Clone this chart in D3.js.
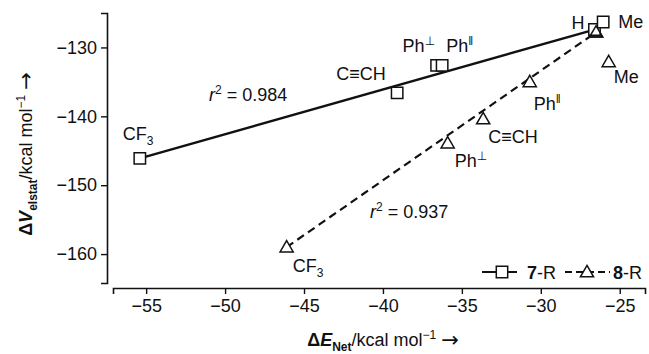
<!DOCTYPE html>
<html>
<head>
<meta charset="utf-8">
<script src="https://cdn.jsdelivr.net/npm/d3@7"></script>
<style>
  body { margin: 0; background: #fff; }
  svg { font-family: "Liberation Sans", Arial, sans-serif; }
</style>
</head>
<body>
<div id="chart"></div>
<script>
// 7-R (squares) and 8-R (triangles): dE_Net vs dV_elstat, kcal/mol
const subs7 = ['CF3', 'C≡CH', 'Ph⊥', 'Phǁ', 'H', 'Me'];
const eNet7 = [-55.4, -39.1, -36.6, -36.25, -26.6, -26.05];
const vElst7 = [-146.1, -136.6, -132.6, -132.6, -127.4, -126.3];

const subs8 = ['CF3', 'Ph⊥', 'C≡CH', 'Phǁ', 'H', 'Me'];
const eNet8 = [-46.1, -35.9, -33.65, -30.7, -26.5, -25.7];
const vElst8 = [-159.0, -143.9, -140.4, -135.0, -127.8, -132.1];

// regression lines (end points)
const fit7 = [[-55.4, -146.1], [-26.6, -127.4]];
const fit8 = [[-46.1, -159.0], [-26.5, -127.8]];
const r2Labels = ['0.984', '0.937'];

const xTicks = [-55, -50, -45, -40, -35, -30, -25];
const yTicks = [-130, -140, -150, -160];

const width = 649, height = 354;
const ink = '#111';
const fs = 18, fsSmall = 12;

const svg = d3.select('#chart').append('svg')
  .attr('width', width)
  .attr('height', height);

const x = d3.scaleLinear().domain([-57.1, -23.4]).range([113, 645]);
const y = d3.scaleLinear().domain([-164.2, -125]).range([283, 13]);

const fmt = d => d < 0 ? '\u2212' + Math.abs(d) : '' + d;

// axes
const xAxis = svg.append('g')
  .attr('transform', 'translate(0,288)')
  .call(d3.axisBottom(x).tickValues(xTicks).tickFormat(fmt).tickSizeOuter(0).tickSize(6).tickPadding(5));
const yAxis = svg.append('g')
  .attr('transform', 'translate(107,0)')
  .call(d3.axisLeft(y).tickValues(yTicks).tickFormat(fmt).tickSizeOuter(0).tickSize(6).tickPadding(4));

[xAxis, yAxis].forEach(a => {
  a.select('.domain').attr('stroke', ink).attr('stroke-width', 1.6);
  a.selectAll('.tick line').attr('stroke', ink).attr('stroke-width', 1.4);
  a.selectAll('.tick text').attr('fill', ink).attr('font-size', fs).attr('font-family', null);
});

// axis titles
function axisTitle(t, sym, sub) {
  t.append('tspan').attr('font-weight', 'bold').text('Δ');
  t.append('tspan').attr('font-weight', 'bold').attr('font-style', 'italic').text(sym);
  t.append('tspan').attr('font-weight', 'bold').attr('font-size', fsSmall).attr('dy', 5).text(sub);
  t.append('tspan').attr('dy', -5).text('/kcal mol');
  t.append('tspan').attr('font-size', fsSmall).attr('dy', -7).text('\u22121');
  t.append('tspan').attr('dy', 7).text('\u00a0');
  t.append('tspan').attr('font-family', 'DejaVu Sans').attr('font-size', 21).attr('dy', 1).text('→');
}
axisTitle(svg.append('text').attr('x', 383).attr('y', 346)
  .attr('text-anchor', 'middle').attr('font-size', fs).attr('fill', ink), 'E', 'Net');
axisTitle(svg.append('text')
  .attr('transform', 'translate(32,154) rotate(-90)')
  .attr('text-anchor', 'middle').attr('font-size', fs).attr('fill', ink), 'V', 'elstat');

// fit lines
const line = d3.line().x(d => x(d[0])).y(d => y(d[1]));
svg.append('path').attr('d', line(fit7)).attr('fill', 'none')
  .attr('stroke', ink).attr('stroke-width', 2.4);
svg.append('path').attr('d', line(fit8)).attr('fill', 'none')
  .attr('stroke', ink).attr('stroke-width', 2.2).attr('stroke-dasharray', '8,5');

// markers
const sq = d3.symbol().type(d3.symbolSquare).size(130);
const tri = d3.symbol().type(d3.symbolTriangle).size(75);

const pts8 = eNet8.map((v, i) => [v, vElst8[i]]);
const pts7 = eNet7.map((v, i) => [v, vElst7[i]]);

svg.selectAll('.tri').data(pts8).join('path')
  .attr('transform', d => `translate(${x(d[0])},${y(d[1]) + 1})`)
  .attr('d', tri).attr('fill', '#fff').attr('stroke', ink).attr('stroke-width', 1.5);
svg.selectAll('.sq').data(pts7).join('path')
  .attr('transform', d => `translate(${x(d[0])},${y(d[1])})`)
  .attr('d', sq).attr('fill', '#fff').attr('stroke', ink).attr('stroke-width', 1.5);
// H triangle sits on top of the H square
svg.append('path')
  .attr('transform', `translate(${x(eNet8[4])},${y(vElst8[4]) + 1})`)
  .attr('d', tri).attr('fill', 'none').attr('stroke', ink).attr('stroke-width', 1.5);

// substituent labels: offsets from their point
function label(px, py, txt) {
  const t = svg.append('text').attr('x', px).attr('y', py)
    .attr('font-size', fs).attr('fill', ink);
  const m = txt.match(/^(Ph)([⊥ǁ])$/);
  if (txt === 'CF3') {
    t.append('tspan').text('CF');
    t.append('tspan').attr('font-size', fsSmall).attr('dy', 5).text('3');
  } else if (m) {
    t.append('tspan').text(m[1]);
    t.append('tspan').attr('font-size', fsSmall).attr('dy', -7)
      .attr('font-family', m[2] === '⊥' ? 'DejaVu Sans' : null).text(m[2]);
  } else {
    t.text(txt);
  }
}
const off7 = [[-17, -18], [-61, -13], [-34, -13], [4, -13], [-23, -1], [15, 6]];
const off8 = [[6, 25], [7, 24], [5, 24], [4, 28], null, [5, 21]];
pts7.forEach((d, i) => label(x(d[0]) + off7[i][0], y(d[1]) + off7[i][1], subs7[i]));
pts8.forEach((d, i) => { if (off8[i]) label(x(d[0]) + off8[i][0], y(d[1]) + off8[i][1], subs8[i]); });

// r² labels
function r2(px, py, val) {
  const t = svg.append('text').attr('x', px).attr('y', py).attr('font-size', fs).attr('fill', ink);
  t.append('tspan').attr('font-style', 'italic').text('r');
  t.append('tspan').attr('font-size', fsSmall).attr('dy', -7).text('2');
  t.append('tspan').attr('dy', 7).text(' = ' + val);
}
r2(209, 101, r2Labels[0]);
r2(370, 218, r2Labels[1]);

// legend
const lg = svg.append('g').attr('transform', 'translate(482,272)');
lg.append('line').attr('x1', 0).attr('x2', 35).attr('stroke', ink).attr('stroke-width', 2.2);
lg.append('path').attr('transform', 'translate(20,0)').attr('d', sq)
  .attr('fill', '#fff').attr('stroke', ink).attr('stroke-width', 1.5);
const l7 = lg.append('text').attr('x', 45).attr('y', 6.5).attr('font-size', fs).attr('fill', ink);
l7.append('tspan').attr('font-weight', 'bold').text('7');
l7.append('tspan').text('-R');
lg.append('line').attr('x1', 83).attr('x2', 128).attr('stroke', ink)
  .attr('stroke-width', 2.2).attr('stroke-dasharray', '7,4');
lg.append('path').attr('transform', 'translate(105,1)').attr('d', tri)
  .attr('fill', '#fff').attr('stroke', ink).attr('stroke-width', 1.5);
const l8 = lg.append('text').attr('x', 131).attr('y', 6.5).attr('font-size', fs).attr('fill', ink);
l8.append('tspan').attr('font-weight', 'bold').text('8');
l8.append('tspan').text('-R');
</script>
</body>
</html>
